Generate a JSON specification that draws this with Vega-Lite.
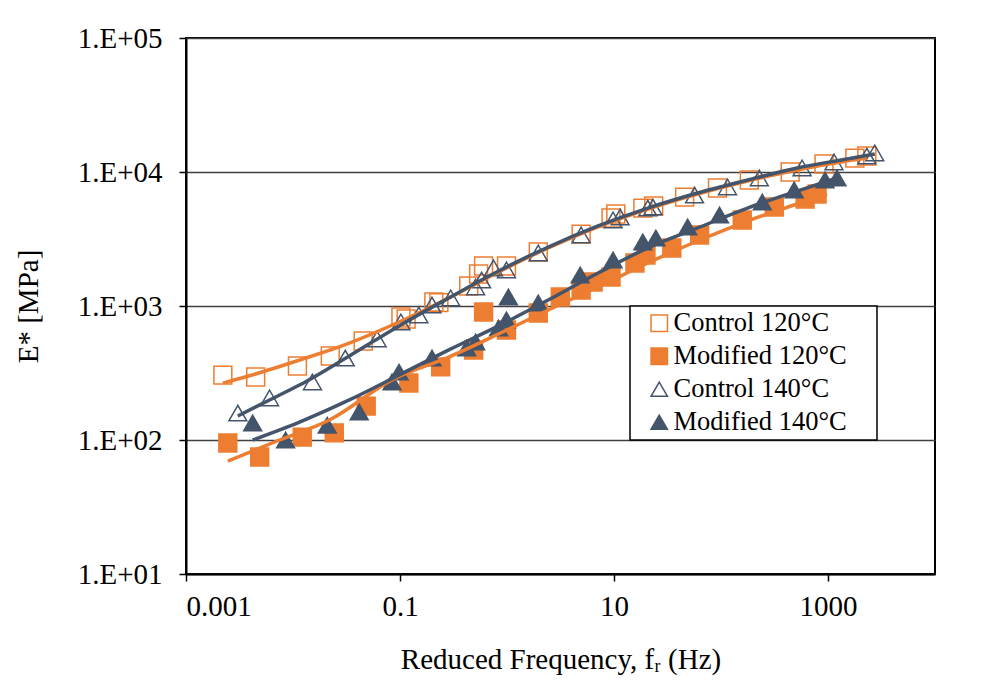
{
  "$schema": "https://vega.github.io/schema/vega-lite/v6.json",
  "width": 749,
  "height": 536,
  "autosize": {"type": "none"},
  "padding": {"left": 186, "top": 38, "right": 55, "bottom": 119},
  "background": "white",
  "config": {
    "font": "Liberation Serif",
    "view": {"stroke": "black", "strokeWidth": 2},
    "axis": {
      "labelFont": "Liberation Serif",
      "titleFont": "Liberation Serif",
      "labelFontSize": 29,
      "titleFontSize": 29,
      "titleFontWeight": "normal",
      "labelColor": "black",
      "titleColor": "black",
      "domainColor": "black",
      "domainWidth": 2,
      "tickColor": "black",
      "tickWidth": 1.5,
      "tickSize": 7
    },
    "legend": {
      "orient": "none",
      "legendX": 444,
      "legendY": 268,
      "strokeColor": "black",
      "strokeWidth": 1.5,
      "fillColor": "white",
      "padding": 4,
      "rowPadding": 6,
      "symbolSize": 270,
      "symbolStrokeWidth": 1.5,
      "symbolOffset": 12,
      "labelOffset": 1,
      "labelLimit": 400,
      "labelFont": "Liberation Serif",
      "labelFontSize": 26.5,
      "labelColor": "black",
      "titleOrient": "right",
      "titlePadding": 26,
      "titleFont": "Liberation Serif",
      "titleFontSize": 20
    }
  },
  "datasets": {
    "pts": [
      {"s": "Control 120°C", "f": 0.00221, "E": 305},
      {"s": "Control 120°C", "f": 0.00448, "E": 295},
      {"s": "Control 120°C", "f": 0.011, "E": 357},
      {"s": "Control 120°C", "f": 0.0223, "E": 424},
      {"s": "Control 120°C", "f": 0.0453, "E": 548},
      {"s": "Control 120°C", "f": 0.102, "E": 828},
      {"s": "Control 120°C", "f": 0.114, "E": 800},
      {"s": "Control 120°C", "f": 0.207, "E": 1072},
      {"s": "Control 120°C", "f": 0.231, "E": 1060},
      {"s": "Control 120°C", "f": 0.439, "E": 1409},
      {"s": "Control 120°C", "f": 0.543, "E": 1733},
      {"s": "Control 120°C", "f": 0.604, "E": 1990},
      {"s": "Control 120°C", "f": 0.989, "E": 1990},
      {"s": "Control 120°C", "f": 1.96, "E": 2530},
      {"s": "Control 120°C", "f": 4.93, "E": 3440},
      {"s": "Control 120°C", "f": 9.38, "E": 4540},
      {"s": "Control 120°C", "f": 10.4, "E": 4860},
      {"s": "Control 120°C", "f": 18.6, "E": 5380},
      {"s": "Control 120°C", "f": 23.5, "E": 5570},
      {"s": "Control 120°C", "f": 45.7, "E": 6500},
      {"s": "Control 120°C", "f": 92.7, "E": 7600},
      {"s": "Control 120°C", "f": 184, "E": 8710},
      {"s": "Control 120°C", "f": 443, "E": 10000},
      {"s": "Control 120°C", "f": 918, "E": 11480},
      {"s": "Control 120°C", "f": 1782, "E": 12700},
      {"s": "Control 120°C", "f": 2307, "E": 13150},
      {"s": "Modified 120°C", "f": 0.00246, "E": 95},
      {"s": "Modified 120°C", "f": 0.00488, "E": 74.7},
      {"s": "Modified 120°C", "f": 0.0122, "E": 105},
      {"s": "Modified 120°C", "f": 0.0243, "E": 113},
      {"s": "Modified 120°C", "f": 0.0483, "E": 179},
      {"s": "Modified 120°C", "f": 0.121, "E": 266},
      {"s": "Modified 120°C", "f": 0.24, "E": 351},
      {"s": "Modified 120°C", "f": 0.488, "E": 470},
      {"s": "Modified 120°C", "f": 0.604, "E": 902},
      {"s": "Modified 120°C", "f": 0.989, "E": 662},
      {"s": "Modified 120°C", "f": 1.96, "E": 887},
      {"s": "Modified 120°C", "f": 3.15, "E": 1167},
      {"s": "Modified 120°C", "f": 4.93, "E": 1315},
      {"s": "Modified 120°C", "f": 6.38, "E": 1510},
      {"s": "Modified 120°C", "f": 9.38, "E": 1645},
      {"s": "Modified 120°C", "f": 15.7, "E": 2094},
      {"s": "Modified 120°C", "f": 19.9, "E": 2403},
      {"s": "Modified 120°C", "f": 34.7, "E": 2711},
      {"s": "Modified 120°C", "f": 63.1, "E": 3388},
      {"s": "Modified 120°C", "f": 158, "E": 4385},
      {"s": "Modified 120°C", "f": 315, "E": 5480},
      {"s": "Modified 120°C", "f": 611, "E": 6295},
      {"s": "Modified 120°C", "f": 791, "E": 6855},
      {"s": "Control 140°C", "f": 0.00305, "E": 159},
      {"s": "Control 140°C", "f": 0.00604, "E": 206},
      {"s": "Control 140°C", "f": 0.0152, "E": 271},
      {"s": "Control 140°C", "f": 0.0308, "E": 409},
      {"s": "Control 140°C", "f": 0.0611, "E": 568},
      {"s": "Control 140°C", "f": 0.102, "E": 760},
      {"s": "Control 140°C", "f": 0.15, "E": 857},
      {"s": "Control 140°C", "f": 0.199, "E": 1016},
      {"s": "Control 140°C", "f": 0.298, "E": 1148},
      {"s": "Control 140°C", "f": 0.509, "E": 1387},
      {"s": "Control 140°C", "f": 0.579, "E": 1563},
      {"s": "Control 140°C", "f": 0.748, "E": 1922},
      {"s": "Control 140°C", "f": 0.989, "E": 1857},
      {"s": "Control 140°C", "f": 1.96, "E": 2488},
      {"s": "Control 140°C", "f": 4.93, "E": 3388},
      {"s": "Control 140°C", "f": 9.8, "E": 4385},
      {"s": "Control 140°C", "f": 11.4, "E": 4614},
      {"s": "Control 140°C", "f": 20.7, "E": 5380},
      {"s": "Control 140°C", "f": 23.1, "E": 5480},
      {"s": "Control 140°C", "f": 56.6, "E": 6730},
      {"s": "Control 140°C", "f": 115, "E": 7730},
      {"s": "Control 140°C", "f": 228, "E": 9020},
      {"s": "Control 140°C", "f": 573, "E": 10720},
      {"s": "Control 140°C", "f": 1138, "E": 11890},
      {"s": "Control 140°C", "f": 2307, "E": 13150},
      {"s": "Control 140°C", "f": 2735, "E": 13870},
      {"s": "Modified 140°C", "f": 0.0042, "E": 134},
      {"s": "Modified 140°C", "f": 0.00852, "E": 100},
      {"s": "Modified 140°C", "f": 0.0209, "E": 129},
      {"s": "Modified 140°C", "f": 0.0416, "E": 162},
      {"s": "Modified 140°C", "f": 0.0843, "E": 271},
      {"s": "Modified 140°C", "f": 0.098, "E": 321},
      {"s": "Modified 140°C", "f": 0.199, "E": 409},
      {"s": "Modified 140°C", "f": 0.42, "E": 486},
      {"s": "Modified 140°C", "f": 0.509, "E": 538},
      {"s": "Modified 140°C", "f": 0.834, "E": 685},
      {"s": "Modified 140°C", "f": 0.989, "E": 787},
      {"s": "Modified 140°C", "f": 1.03, "E": 1167},
      {"s": "Modified 140°C", "f": 1.96, "E": 1053},
      {"s": "Modified 140°C", "f": 4.83, "E": 1703},
      {"s": "Modified 140°C", "f": 9.8, "E": 2203},
      {"s": "Modified 140°C", "f": 18.6, "E": 3006},
      {"s": "Modified 140°C", "f": 24.6, "E": 3214},
      {"s": "Modified 140°C", "f": 48.8, "E": 3892},
      {"s": "Modified 140°C", "f": 96.8, "E": 4775},
      {"s": "Modified 140°C", "f": 243, "E": 5970},
      {"s": "Modified 140°C", "f": 483, "E": 7345},
      {"s": "Modified 140°C", "f": 938, "E": 8710},
      {"s": "Modified 140°C", "f": 1213, "E": 9020}
    ],
    "fit": [
      {"s": "Control 120°C", "t": 120, "f": 0.00221, "E": 266},
      {"s": "Control 120°C", "t": 120, "f": 0.00448, "E": 311},
      {"s": "Control 120°C", "t": 120, "f": 0.0115, "E": 395},
      {"s": "Control 120°C", "t": 120, "f": 0.0336, "E": 529},
      {"s": "Control 120°C", "t": 120, "f": 0.098, "E": 760},
      {"s": "Control 120°C", "t": 120, "f": 0.286, "E": 1148},
      {"s": "Control 120°C", "t": 120, "f": 0.834, "E": 1795},
      {"s": "Control 120°C", "t": 120, "f": 2.43, "E": 2711},
      {"s": "Control 120°C", "t": 120, "f": 7.1, "E": 3892},
      {"s": "Control 120°C", "t": 120, "f": 20.7, "E": 5290},
      {"s": "Control 120°C", "t": 120, "f": 60.4, "E": 6855},
      {"s": "Control 120°C", "t": 120, "f": 177, "E": 8570},
      {"s": "Control 120°C", "t": 120, "f": 515, "E": 10350},
      {"s": "Control 120°C", "t": 120, "f": 1503, "E": 12080},
      {"s": "Control 120°C", "t": 120, "f": 2307, "E": 12700},
      {"s": "Modified 120°C", "t": 120, "f": 0.00246, "E": 69.7},
      {"s": "Modified 120°C", "t": 120, "f": 0.00748, "E": 100},
      {"s": "Modified 120°C", "t": 120, "f": 0.0219, "E": 141},
      {"s": "Modified 120°C", "t": 120, "f": 0.0843, "E": 281},
      {"s": "Modified 120°C", "t": 120, "f": 0.286, "E": 416},
      {"s": "Modified 120°C", "t": 120, "f": 0.834, "E": 618},
      {"s": "Modified 120°C", "t": 120, "f": 2.43, "E": 933},
      {"s": "Modified 120°C", "t": 120, "f": 7.1, "E": 1387},
      {"s": "Modified 120°C", "t": 120, "f": 20.7, "E": 2094},
      {"s": "Modified 120°C", "t": 120, "f": 60.4, "E": 3055},
      {"s": "Modified 120°C", "t": 120, "f": 177, "E": 4305},
      {"s": "Modified 120°C", "t": 120, "f": 515, "E": 5770},
      {"s": "Modified 120°C", "t": 120, "f": 979, "E": 6855},
      {"s": "Control 140°C", "t": 140, "f": 0.00305, "E": 151},
      {"s": "Control 140°C", "t": 140, "f": 0.00604, "E": 199},
      {"s": "Control 140°C", "t": 140, "f": 0.0115, "E": 257},
      {"s": "Control 140°C", "t": 140, "f": 0.0336, "E": 424},
      {"s": "Control 140°C", "t": 140, "f": 0.098, "E": 710},
      {"s": "Control 140°C", "t": 140, "f": 0.286, "E": 1148},
      {"s": "Control 140°C", "t": 140, "f": 0.834, "E": 1824},
      {"s": "Control 140°C", "t": 140, "f": 2.43, "E": 2754},
      {"s": "Control 140°C", "t": 140, "f": 7.1, "E": 3955},
      {"s": "Control 140°C", "t": 140, "f": 20.7, "E": 5380},
      {"s": "Control 140°C", "t": 140, "f": 60.4, "E": 6970},
      {"s": "Control 140°C", "t": 140, "f": 177, "E": 8710},
      {"s": "Control 140°C", "t": 140, "f": 515, "E": 10720},
      {"s": "Control 140°C", "t": 140, "f": 1503, "E": 12500},
      {"s": "Control 140°C", "t": 140, "f": 2735, "E": 13620},
      {"s": "Modified 140°C", "t": 140, "f": 0.0042, "E": 100},
      {"s": "Modified 140°C", "t": 140, "f": 0.0115, "E": 136},
      {"s": "Modified 140°C", "t": 140, "f": 0.0336, "E": 199},
      {"s": "Modified 140°C", "t": 140, "f": 0.098, "E": 305},
      {"s": "Modified 140°C", "t": 140, "f": 0.286, "E": 470},
      {"s": "Modified 140°C", "t": 140, "f": 0.834, "E": 710},
      {"s": "Modified 140°C", "t": 140, "f": 2.43, "E": 1109},
      {"s": "Modified 140°C", "t": 140, "f": 7.1, "E": 1762},
      {"s": "Modified 140°C", "t": 140, "f": 20.7, "E": 2711},
      {"s": "Modified 140°C", "t": 140, "f": 60.4, "E": 3823},
      {"s": "Modified 140°C", "t": 140, "f": 177, "E": 5380},
      {"s": "Modified 140°C", "t": 140, "f": 515, "E": 7210},
      {"s": "Modified 140°C", "t": 140, "f": 1213, "E": 9020}
    ]
  },
  "encoding": {
    "x": {
      "field": "f",
      "type": "quantitative",
      "scale": {"type": "log", "domain": [0.001, 10000], "nice": false},
      "axis": {
        "values": [0.001, 0.1, 10, 1000],
        "format": "~g",
        "grid": false,
        "labelFont": "Liberation Serif",
        "titleFont": "Liberation Serif",
        "labelPadding": 11,
        "title": "Reduced Frequency, fᵣ (Hz)",
        "titlePadding": 24
      }
    },
    "y": {
      "field": "E",
      "type": "quantitative",
      "scale": {"type": "log", "domain": [10, 100000], "nice": false},
      "axis": {
        "values": [10, 100, 1000, 10000, 100000],
        "labelExpr": "'1.E+0' + round(log(datum.value) / LN10)",
        "grid": true,
        "gridColor": "#404040",
        "gridWidth": 1.3,
        "labelFont": "Liberation Serif",
        "titleFont": "Liberation Serif",
        "labelPadding": 17,
        "title": "E* [MPa]",
        "titlePadding": 34
      }
    }
  },
  "layer": [
    {
      "data": {"name": "pts"},
      "mark": {"type": "point", "strokeWidth": 1.5, "opacity": 1, "size": 320},
      "encoding": {
        "shape": {
          "field": "s",
          "type": "nominal",
          "title": " ",
          "scale": {
            "domain": ["Control 120°C", "Modified 120°C", "Control 140°C", "Modified 140°C"],
            "range": ["square", "square", "triangle-up", "triangle-up"]
          }
        },
        "stroke": {
          "field": "s",
          "type": "nominal",
          "title": " ",
          "scale": {
            "domain": ["Control 120°C", "Modified 120°C", "Control 140°C", "Modified 140°C"],
            "range": ["#ED7D31", "#ED7D31", "#44546A", "#44546A"]
          }
        },
        "fill": {
          "field": "s",
          "type": "nominal",
          "title": " ",
          "scale": {
            "domain": ["Control 120°C", "Modified 120°C", "Control 140°C", "Modified 140°C"],
            "range": ["transparent", "#ED7D31", "transparent", "#44546A"]
          }
        }
      }
    },
    {
      "data": {"name": "fit"},
      "transform": [{"filter": "datum.t == 120"}],
      "mark": {"type": "line", "color": "#ED7D31", "strokeWidth": 3.5, "interpolate": "monotone"},
      "encoding": {"detail": {"field": "s", "type": "nominal"}}
    },
    {
      "data": {"name": "fit"},
      "transform": [{"filter": "datum.t == 140"}],
      "mark": {"type": "line", "color": "#44546A", "strokeWidth": 3.5, "interpolate": "monotone"},
      "encoding": {"detail": {"field": "s", "type": "nominal"}}
    }
  ]
}
